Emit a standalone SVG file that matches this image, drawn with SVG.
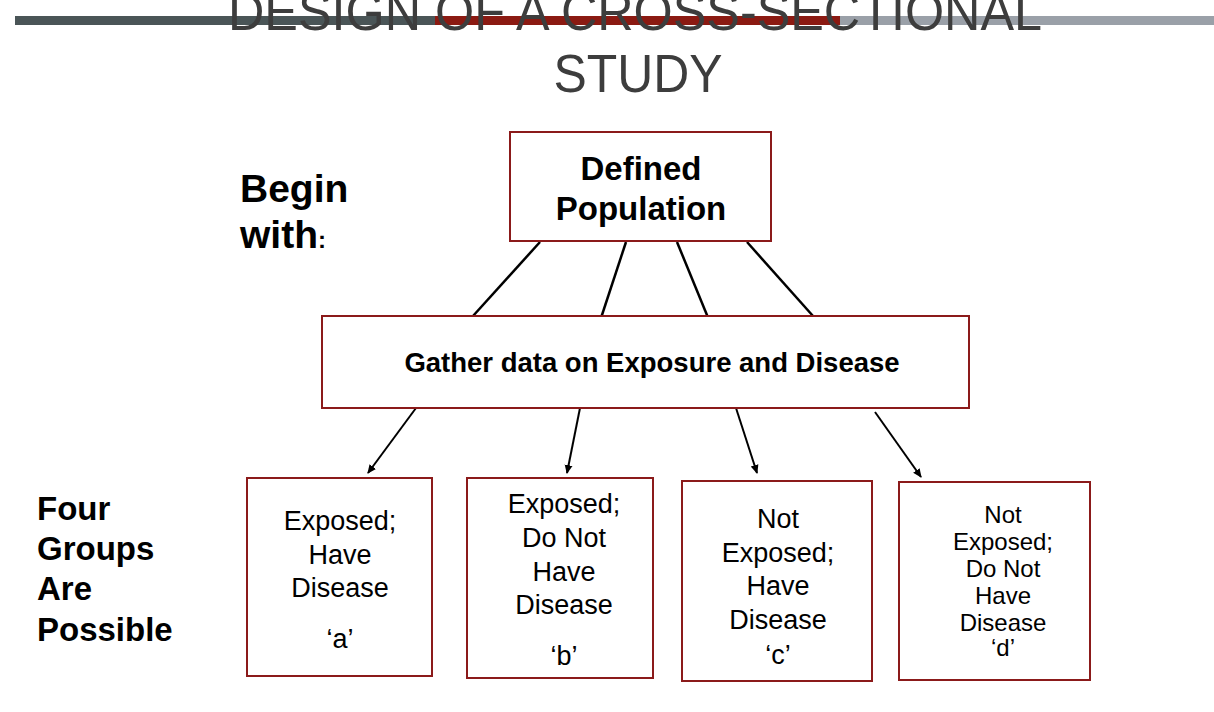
<svg xmlns="http://www.w3.org/2000/svg" width="1214" height="712" viewBox="0 0 1214 712">
<defs>
<marker id="ah" markerWidth="10" markerHeight="10" refX="8" refY="5" orient="auto" markerUnits="userSpaceOnUse"><path d="M0,1 L9,5 L0,9 z" fill="#000"/></marker>
<style>
.box{fill:#fff;stroke:#8b1a1a;stroke-width:2}
.t{font-family:"Liberation Sans",Arial,sans-serif;fill:#000;text-anchor:middle}
.b{font-weight:bold}
.ln{stroke:#000;stroke-width:2.5;fill:none}
.ar{stroke:#000;stroke-width:2;fill:none;marker-end:url(#ah)}
.side{font-family:"Liberation Sans",Arial,sans-serif;font-weight:bold;fill:#000}
</style>
</defs>
<rect width="1214" height="712" fill="#fff"/>
<rect x="15" y="16" width="420" height="9" fill="#4a5557"/>
<rect x="435" y="16" width="405" height="9" fill="#8b1a12"/>
<rect x="840" y="16" width="374" height="9" fill="#9aa0a8"/>
<g font-family="'Liberation Sans Narrow','Liberation Sans',Arial,sans-serif" fill="#3d3d3d" font-size="54" text-anchor="middle">
<text x="635" y="30" textLength="814" lengthAdjust="spacingAndGlyphs">DESIGN OF A CROSS-SECTIONAL</text>
<text x="638" y="92" textLength="169" lengthAdjust="spacingAndGlyphs">STUDY</text>
</g>
<text class="side" font-size="39"><tspan x="240" y="202">Begin</tspan><tspan x="240" y="248">with<tspan font-size="24">:</tspan></tspan></text>
<text class="side" font-size="33"><tspan x="37" y="520">Four</tspan><tspan x="37" y="560">Groups</tspan><tspan x="37" y="600">Are</tspan><tspan x="37" y="641">Possible</tspan></text>
<g id="connectors">
<line class="ln" x1="540" y1="242" x2="473" y2="316"/>
<line class="ln" x1="626" y1="242" x2="601" y2="318"/>
<line class="ln" x1="677" y1="242" x2="709" y2="320"/>
<line class="ln" x1="747" y1="242" x2="813" y2="316"/>
<line class="ar" x1="416" y1="408" x2="368" y2="473"/>
<line class="ar" x1="580" y1="408" x2="567" y2="473"/>
<line class="ar" x1="736" y1="408" x2="757" y2="473"/>
<line class="ar" x1="875" y1="412" x2="921" y2="477"/>
</g>
<g id="defined"><rect class="box" x="510" y="132" width="261" height="109"/>
<text class="t b" font-size="33"><tspan x="641" y="180">Defined</tspan><tspan x="641" y="220">Population</tspan></text></g>
<g id="gather"><rect class="box" x="322" y="316" width="647" height="92"/>
<text class="t b" x="652" y="372" font-size="27.5">Gather data on Exposure and Disease</text></g>
<g id="ga"><rect class="box" x="247" y="478" width="185" height="198"/>
<text class="t" font-size="27"><tspan x="340" y="530">Exposed;</tspan><tspan x="340" y="564">Have</tspan><tspan x="340" y="597">Disease</tspan><tspan x="340" y="648">‘a’</tspan></text></g>
<g id="gb"><rect class="box" x="467" y="478" width="186" height="200"/>
<text class="t" font-size="27"><tspan x="564" y="513">Exposed;</tspan><tspan x="564" y="547">Do Not</tspan><tspan x="564" y="581">Have</tspan><tspan x="564" y="614">Disease</tspan><tspan x="564" y="665">‘b’</tspan></text></g>
<g id="gc"><rect class="box" x="682" y="481" width="190" height="200"/>
<text class="t" font-size="27"><tspan x="778" y="528">Not</tspan><tspan x="778" y="562">Exposed;</tspan><tspan x="778" y="595">Have</tspan><tspan x="778" y="629">Disease</tspan><tspan x="778" y="664">‘c’</tspan></text></g>
<g id="gd"><rect class="box" x="899" y="482" width="191" height="198"/>
<text class="t" font-size="24"><tspan x="1003" y="523">Not</tspan><tspan x="1003" y="550">Exposed;</tspan><tspan x="1003" y="577">Do Not</tspan><tspan x="1003" y="604">Have</tspan><tspan x="1003" y="631">Disease</tspan><tspan x="1003" y="656">‘d’</tspan></text></g>
</svg>
